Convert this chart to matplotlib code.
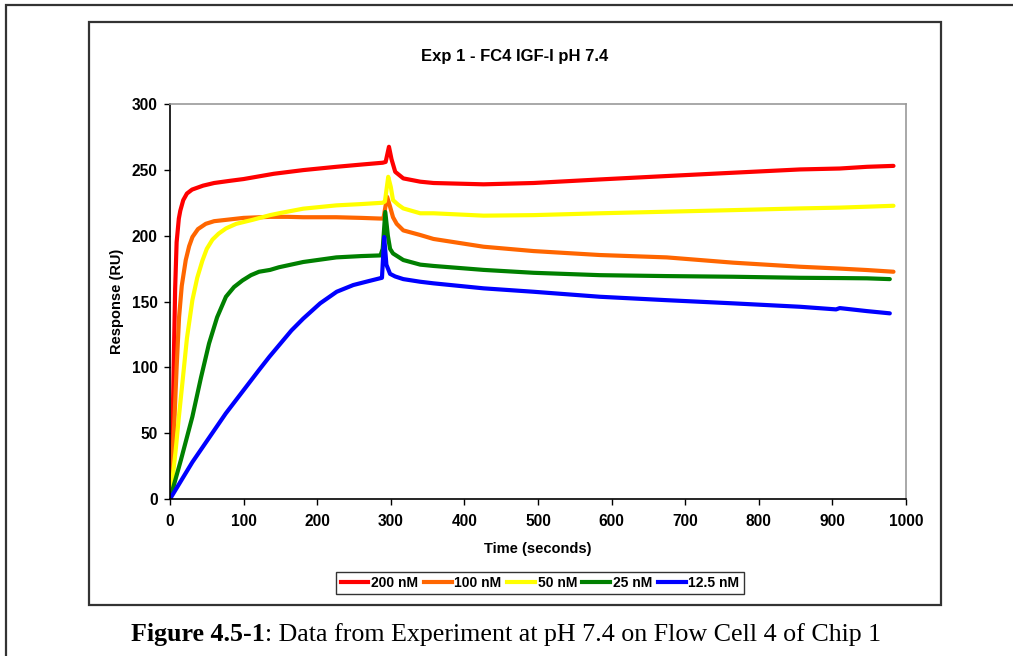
import matplotlib
matplotlib.use("Agg")
import matplotlib.pyplot as plt
from matplotlib.patches import Rectangle
from matplotlib.lines import Line2D

# ---------------- data ----------------
labels = ["200 nM", "100 nM", "50 nM", "25 nM", "12.5 nM"]
colors = ["#FF0000", "#FF6600", "#FFFF00", "#008000", "#0000FF"]

t_200 = [0, 3, 5, 7, 9, 12, 14, 18, 23, 30, 45, 60, 82, 100, 141, 181, 226, 260, 289, 293,
         297.5, 301, 306, 317, 340, 358, 426, 494, 584, 675, 765, 856, 910, 947, 983]
r_200 = [0, 40, 100, 160, 195, 213, 219, 227, 232, 235, 238, 240, 241.7, 243, 247, 249.8, 252.3, 254, 255.4, 256,
         267.5, 258, 248.5, 243.5, 241, 240, 239, 240, 242.7, 245.3, 247.8, 250.3, 251, 252.3, 253]

t_100 = [0, 3, 6, 9, 12.3, 16, 21.4, 26, 30.5, 38, 48.6, 60, 76, 100, 136, 160, 181, 226, 260, 285,
         290, 295, 299, 303, 308, 317, 340, 358, 426, 494, 584, 675, 765, 856, 910, 947, 983]
r_100 = [0, 25, 60, 100, 138, 162, 181.5, 192, 199, 205, 209, 211, 212, 213.5, 214.3, 214.3, 214, 214, 213.5, 213,
         213, 229.5, 222, 214, 209, 204, 200.5, 197.5, 191.6, 188.3, 185.3, 183.5, 179.5, 176.4, 175, 173.9, 172.6]

t_50 = [0, 4, 7.7, 12, 16.8, 23, 30.4, 37, 44, 50, 57.7, 66, 76, 90, 112, 136, 148, 181, 226, 260, 289,
        292, 296.5, 300, 303, 310, 317, 340, 358, 426, 494, 584, 675, 765, 856, 910, 947, 983]
r_50 = [0, 18, 37, 62, 88, 122, 151, 168, 181, 190, 197, 201.5, 205.5, 209, 212, 215.6, 217, 220.5, 223, 224, 225,
        226, 244.7, 237, 227, 223.5, 220.7, 217, 217, 215.2, 215.6, 217, 218.2, 219.4, 220.7, 221.3, 222, 222.7]

t_25 = [0, 15, 30.4, 42, 53, 64, 76, 87, 98.5, 110, 121, 136, 148, 181, 226, 260, 286, 289, 292.5,
        296, 299, 303, 317, 340, 358, 426, 494, 584, 675, 765, 856, 910, 947, 978]
r_25 = [0, 30, 62.5, 92, 118, 138, 153.6, 161, 166, 170, 172.6, 174, 176, 180, 183.5, 184.5, 185, 190, 218,
        200, 190, 186.5, 181.5, 178, 177, 174, 171.8, 170, 169.3, 168.8, 168, 167.8, 167.6, 167]

t_12 = [0, 30.4, 75.8, 121, 135, 150, 165, 181, 204, 226.5, 249, 270, 285, 288, 291, 294, 299, 306, 317, 340,
        358, 426, 494, 584, 675, 765, 856, 905, 910, 947, 978]
r_12 = [0, 28, 65, 98, 108, 118, 128, 137, 148.6, 157.4, 162.5, 165.5, 167.6, 168, 199, 178, 171, 169, 167, 165,
        163.8, 160, 157.4, 153.6, 151, 148.6, 146, 144, 145, 142.7, 141]

series_t = [t_200, t_100, t_50, t_25, t_12]
series_r = [r_200, r_100, r_50, r_25, r_12]

x_ticks = list(range(0, 1001, 100))
y_ticks = list(range(0, 301, 50))

title = "Exp 1 - FC4 IGF-I pH 7.4"
xlabel = "Time (seconds)"
ylabel = "Response (RU)"
cap_bold = "Figure 4.5-1"
cap_rest = ": Data from Experiment at pH 7.4 on Flow Cell 4 of Chip 1"

# ---------------- figure ----------------
W, H = 1013, 656
fig = plt.figure(figsize=(W / 100, H / 100), dpi=100)
plt.rcParams['font.family'] = ['Liberation Sans', 'DejaVu Sans']

def fx(px):
    return px / W

def fy(py):
    return 1 - py / H

# outer frame (left & top visible)
fig.patches.append(Rectangle((fx(6), fy(H + 10)), fx(W + 20) - fx(6), fy(5) - fy(H + 10),
                             transform=fig.transFigure, fill=False, edgecolor="#333333", lw=1.6))
# inner chart frame
fig.patches.append(Rectangle((fx(89), fy(605)), fx(941) - fx(89), fy(22) - fy(605),
                             transform=fig.transFigure, fill=False, edgecolor="#333333", lw=1.6))

ax = fig.add_axes([fx(170), fy(499), fx(906) - fx(170), fy(104) - fy(499)])
for t, r, c, lab in zip(series_t, series_r, colors, labels):
    ax.plot(t, r, color=c, lw=3.0, label=lab, solid_joinstyle="round", solid_capstyle="round")

ax.set_xlim(0, 1000)
ax.set_ylim(0, 300)
ax.set_xticks(x_ticks)
ax.set_yticks(y_ticks)
ax.tick_params(axis="both", direction="out", length=4, width=1, labelsize=11.2, pad=5)
for lbl in ax.get_xticklabels() + ax.get_yticklabels():
    lbl.set_fontweight("bold")
ax.tick_params(axis="x", pad=7)
for s in ["left", "bottom"]:
    ax.spines[s].set_color("black")
    ax.spines[s].set_linewidth(1.2)
for s in ["top", "right"]:
    ax.spines[s].set_color("#999999")
    ax.spines[s].set_linewidth(1.2)

fig.text(fx(515), fy(57), title, ha="center", va="center", fontsize=12, fontweight="bold")
fig.text(fx(538), fy(549), xlabel, ha="center", va="center", fontsize=10.5, fontweight="bold")
fig.text(fx(117), fy(301), ylabel, ha="center", va="center", fontsize=10.5, fontweight="bold",
         rotation=90)

handles = [Line2D([], [], color=c, lw=3) for c in colors]
leg = fig.legend(handles, labels, loc="center", bbox_to_anchor=(fx(540), fy(583)), ncol=5,
                 frameon=True, fancybox=False, edgecolor="black", handlelength=2.0,
                 handletextpad=0.2, columnspacing=0.4, borderpad=0.3,
                 prop={"weight": "bold", "size": 10})
leg.get_frame().set_linewidth(1.0)

# caption with bold + regular parts
renderer = fig.canvas.get_renderer()
serif = ["Liberation Serif", "DejaVu Serif"]
tb = fig.text(0, fy(641), cap_bold, ha="left", va="baseline", fontsize=18.7, fontweight="bold",
              family=serif)
tr = fig.text(0, fy(641), cap_rest, ha="left", va="baseline", fontsize=18.7, family=serif)
wb = tb.get_window_extent(renderer).width
wr = tr.get_window_extent(renderer).width
x0 = 506 - (wb + wr) / 2
tb.set_x(fx(x0))
tr.set_x(fx(x0 + wb))

fig.savefig("out.png", dpi=100)
